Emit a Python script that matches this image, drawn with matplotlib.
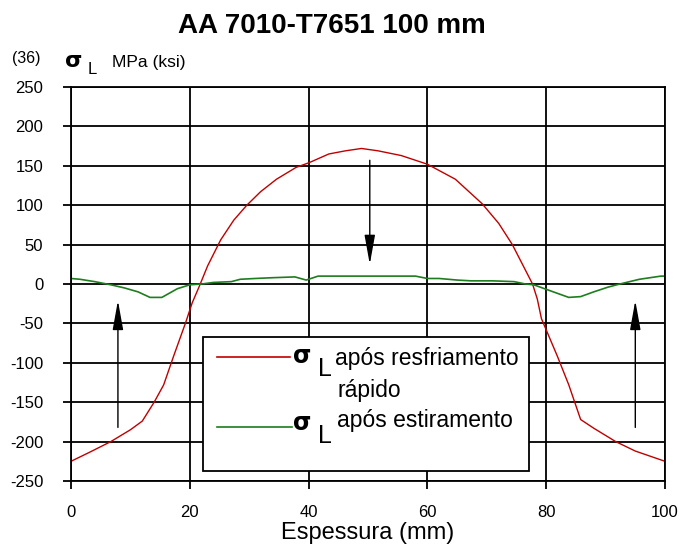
import matplotlib
matplotlib.use("Agg")
import matplotlib.pyplot as plt
from matplotlib.patches import Rectangle

plt.rcParams['font.family'] = ['Liberation Sans', 'DejaVu Sans']
plt.rcParams['axes.unicode_minus'] = False

# espessura (mm) x tensao residual longitudinal (MPa)
x_quench = [0, 3, 6.7, 10, 12, 14, 15.6, 17.3, 19.3, 20.4, 21.65, 23.0, 25.2,
            27.4, 29.6, 31.9, 34.6, 37.9, 40.1, 43.4, 46.2, 48.9, 51.7, 55.6,
            60, 64.7, 69.2, 72.0, 74.3, 76.0, 77.7, 78.5, 79.2, 81.9, 83.8,
            85.8, 88, 91.7, 95, 100]
s_quench = [-225, -214, -200, -185, -174, -150, -128, -91, -49, -24, -2, 23, 56,
            81, 100, 117, 133, 148, 154, 165, 169, 172, 169, 163,
            152, 133, 102, 77, 50, 25, 0, -19, -44, -92, -128,
            -172, -183, -200, -212, -225]

x_stretch = [0, 1.5, 4, 6.7, 9, 11.3, 13.3, 15.3, 17.9, 20, 22, 24, 27, 28.5,
             31, 34, 37.7, 39.6, 41.6, 45, 50, 55, 58, 60, 62, 65, 67.4, 71,
             74.6, 76.5, 77.9, 81.2, 83.8, 85.8, 88, 90.4, 92.4, 95.7, 99.3, 100]
s_stretch = [7, 6, 3, -1, -5, -10, -17, -17, -6, -1, 0, 2, 3, 6,
             7, 8, 9, 5, 10, 10, 10, 10, 10, 7, 7, 5, 4, 4,
             3, 0, -1, -10, -17, -16, -10, -4, 0, 6, 10, 10]

x_ticks = [0, 20, 40, 60, 80, 100]
y_ticks = [250, 200, 150, 100, 50, 0, -50, -100, -150, -200, -250]

fig = plt.figure(figsize=(6.85, 5.58), dpi=100)
ax = fig.add_axes([71 / 685, 1 - 481 / 558, 594 / 685, 394 / 558])

ax.plot(x_quench, s_quench, color='#c00000', lw=1.0, zorder=2)
ax.plot(x_stretch, s_stretch, color='#1e7d1e', lw=1.2, zorder=2)

ax.set_xlim(0, 100)
ax.set_ylim(-250, 250)
ax.set_xticks(x_ticks)
ax.set_yticks(y_ticks)
ax.set_axisbelow(True)
ax.grid(True, color='black', lw=1.3)
for sp in ax.spines.values():
    sp.set_linewidth(1.3)
ax.tick_params(direction='out', length=6, width=1.3, labelsize=12)
ax.tick_params(axis='y', pad=14)
ax.tick_params(axis='x', pad=11)
ax.set_xlabel('Espessura (mm)', fontsize=17, labelpad=2)

# setas
arrow = dict(arrowstyle='-|>,head_length=1.0,head_width=0.18', color='black',
             lw=1.0, shrinkA=0, shrinkB=0, mutation_scale=18)
ax.annotate('', xy=(50.3, 25), xytext=(50.3, 157), arrowprops=arrow, zorder=4)
ax.annotate('', xy=(7.9, -21), xytext=(7.9, -182), arrowprops=arrow, zorder=4)
ax.annotate('', xy=(95.0, -21), xytext=(95.0, -182), arrowprops=arrow, zorder=4)

# legenda desenhada
ax.add_patch(Rectangle((0.222, 0.026), 0.549, 0.340, transform=ax.transAxes,
                       facecolor='white', edgecolor='black', lw=1.3, zorder=3))
ax.plot([0.246, 0.369], [0.315, 0.315], transform=ax.transAxes,
        color='#c00000', lw=1.2, zorder=4)
ax.plot([0.246, 0.372], [0.137, 0.137], transform=ax.transAxes,
        color='#1e7d1e', lw=1.2, zorder=4)
for yy in (0.318, 0.146):
    ax.text(0.389, yy, 'σ', transform=ax.transAxes, fontsize=17,
            fontweight='bold', ha='center', va='center', zorder=5,
            family=['DejaVu Sans'])
    ax.text(0.428, yy - 0.033, 'L', transform=ax.transAxes, fontsize=18,
            ha='center', va='center', zorder=5)
ax.text(0.444, 0.310, 'após resfriamento', transform=ax.transAxes,
        fontsize=16.5, ha='left', va='center', zorder=5)
ax.text(0.449, 0.230, 'rápido', transform=ax.transAxes,
        fontsize=16.5, ha='left', va='center', zorder=5)
ax.text(0.448, 0.153, 'após estiramento', transform=ax.transAxes,
        fontsize=16.5, ha='left', va='center', zorder=5)

# titulo e unidade
fig.text(332 / 685, 1 - 26 / 558, 'AA 7010-T7651 100 mm', fontsize=20,
         fontweight='bold', ha='center', va='center')
fig.text(12 / 685, 1 - 58 / 558, '(36)', fontsize=11.5, ha='left', va='center')
fig.text(74 / 685, 1 - 61 / 558, 'σ', fontsize=16, fontweight='bold',
         ha='center', va='center', family=['DejaVu Sans'])
fig.text(92 / 685, 1 - 70 / 558, 'L', fontsize=12, ha='center', va='center')
fig.text(112 / 685, 1 - 63 / 558, 'MPa (ksi)', fontsize=12.5, ha='left',
         va='center')

fig.savefig('out.png', dpi=100)
